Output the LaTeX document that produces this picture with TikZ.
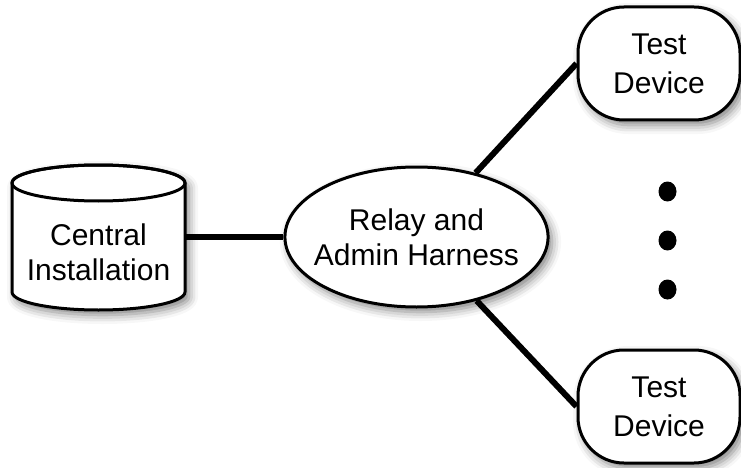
\documentclass[tikz,border=0pt]{standalone}
\usepackage{fontspec}
\setmainfont{Liberation Sans}
\usetikzlibrary{shapes.geometric,shadows.blur}
\begin{document}
\begin{tikzpicture}[x=1pt,y=1pt,
  shad/.style={blur shadow={shadow xshift=4pt,shadow yshift=-5pt,shadow blur radius=9pt,shadow opacity=50}},
  lbl/.style={font=\fontsize{30}{35}\selectfont,align=center},
  relaybox/.style={ellipse,draw,line width=3pt,fill=white,shad,minimum width=261pt,minimum height=140pt,inner xsep=-9.5pt,inner ysep=0pt,lbl},
  devbox/.style={rectangle,draw,line width=3pt,fill=white,shad,rounded corners=46pt,minimum width=162pt,minimum height=113pt,inner sep=0pt,font=\fontsize{30}{39}\selectfont,align=center},
  dotnode/.style={ellipse,fill=black,minimum width=18pt,minimum height=20pt,inner sep=0pt},
  link/.style={line width=6pt}]
\useasboundingbox (0,0) rectangle (741,-468);
% cylinder
\path[fill=white,draw,line width=3pt,shad]
  (12,-183) -- (12,-292) arc[start angle=180,end angle=360,x radius=86.5pt,y radius=18pt]
  -- (185,-183) arc[start angle=0,end angle=180,x radius=86.5pt,y radius=18pt] -- cycle;
\draw[line width=3pt] (98.5,-183) ellipse[x radius=86.5pt,y radius=18pt];
\node[lbl,minimum width=173pt,inner sep=0pt] (cyl) at (98.5,-252.5) {Central\\Installation};
% relay
\node[relaybox] (rel) at (416.5,-237) {Relay and\\Admin Harness};
% devices
\node[devbox] (dev1) at (659,-63.5) {Test\\Device};
\node[devbox] (dev2) at (659,-406.5) {Test\\Device};
% dots
\node[dotnode] (d1) at (667.5,-191.5) {};
\node[dotnode] (d2) at (667.5,-240.5) {};
\node[dotnode] (d3) at (667.5,-289.5) {};
% connectors
\draw[link] (cyl.east |- rel.west) -- (rel.west);
\draw[link] (rel) -- (dev1.west);
\draw[link] (rel) -- (dev2.west);
\end{tikzpicture}
\end{document}
